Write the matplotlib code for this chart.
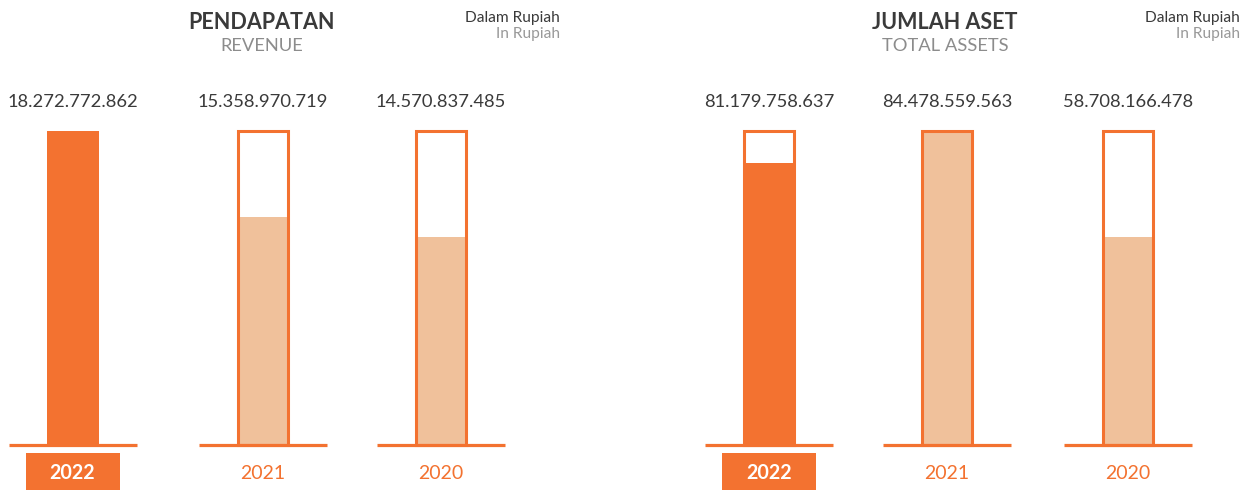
import matplotlib.pyplot as plt

plt.rcParams['font.family'] = ['Lato', 'DejaVu Sans']

years = ['2022', '2021', '2020']
revenue = [18272772862, 15358970719, 14570837485]
assets = [81179758637, 84478559563, 58708166478]
# fill level of each tube (not proportional in the source)
revenue_fill = [1.0, 0.725, 0.661]
assets_fill = [0.898, 1.0, 0.661]

dark = '#F37230'
light = '#F0C19B'
W, H = 1254, 490

fig = plt.figure(figsize=(W / 100, H / 100), dpi=100)
ax = fig.add_axes([0, 0, 1, 1])
ax.set_xlim(0, W)
# y: 0 at the baseline (445 px from top), 1 at the top of the tubes (131 px)
ax.set_ylim(-45 / 314, 445 / 314)
ax.axis('off')

def fmt(v):
    return f'{v:,}'.replace(',', '.')

def px(y):
    # pixel row (from top) -> data y
    return (445 - y) / 314

panels = [
    (revenue, revenue_fill, [72.5, 263, 441], 262, 'PENDAPATAN', 'REVENUE', 560),
    (assets, assets_fill, [769, 947, 1128], 945, 'JUMLAH ASET', 'TOTAL ASSETS', 1240),
]

for values, fills, xs, cx, title, sub, rx in panels:
    for i, (yr, v, f, x) in enumerate(zip(years, values, fills, xs)):
        current = i == 0
        ax.bar(x, f, width=52, color=dark if current else light, zorder=2)
        if f < 1 or not current:
            ax.bar(x, 1, width=50, fill=False, edgecolor=dark, lw=2.2, zorder=3)
        ax.plot([x - 64, x + 64], [0, 0], color=dark, lw=2.3, zorder=4,
                solid_capstyle='butt')
        ax.text(x, px(102), fmt(v), ha='center', va='center', fontsize=13.2,
                color='#3a3a3a')
        if current:
            ax.bar(x, px(453) - px(492), bottom=px(492), width=94, color=dark,
                   zorder=2)
            ax.text(x, px(473), yr, ha='center', va='center', fontsize=14.2,
                    color='white', fontweight='bold', zorder=5)
        else:
            ax.text(x, px(473), yr, ha='center', va='center', fontsize=14,
                    color=dark)
    ax.text(cx, px(22), title, ha='center', va='center', fontsize=15.5,
            fontweight='bold', color='#3a3a3a')
    ax.text(cx, px(46), sub, ha='center', va='center', fontsize=13.2,
            color='#8c8c8c')
    ax.text(rx, px(18), 'Dalam Rupiah', ha='right', va='center', fontsize=11.2,
            color='#3a3a3a')
    ax.text(rx, px(34), 'In Rupiah', ha='right', va='center', fontsize=11.2,
            color='#999999')

fig.savefig('out.png', dpi=100)
